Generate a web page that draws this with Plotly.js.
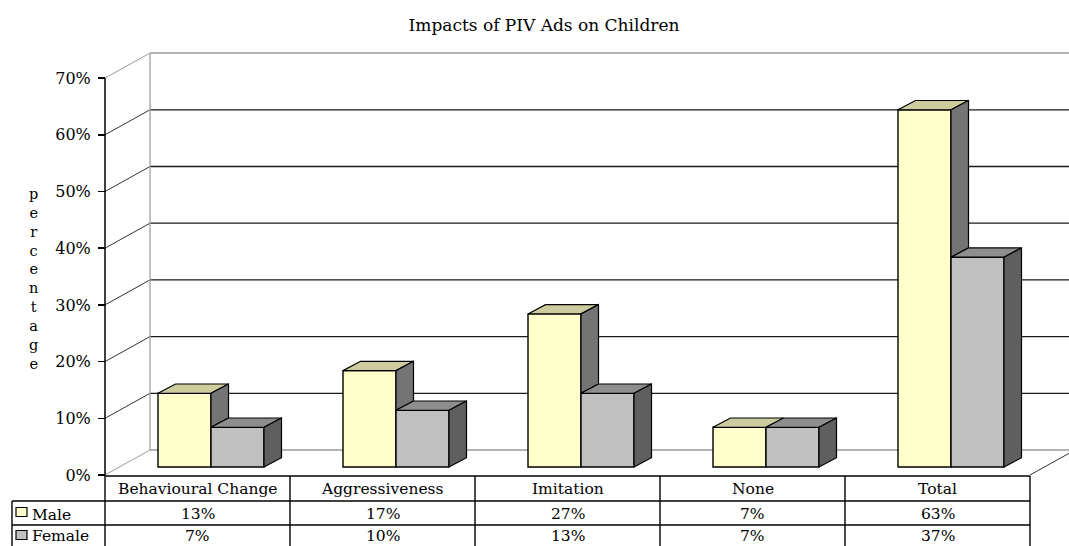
<!DOCTYPE html>
<html>
<head>
<meta charset="utf-8">
<script src="https://cdn.plot.ly/plotly-3.0.1.min.js"></script>
<style>
  html, body { margin: 0; padding: 0; background: #ffffff; }
  #chart { width: 1069px; height: 546px; }
</style>
</head>
<body>
<div id="chart"></div>
<script>
// ---------- data ----------
const chartTitle = 'Impacts of PIV Ads on Children';
const yLabel = 'percentage';
const categories = ['Behavioural Change', 'Aggressiveness', 'Imitation', 'None', 'Total'];
const seriesNames = ['Male', 'Female'];
const maleValues = [13, 17, 27, 7, 63];
const femaleValues = [7, 10, 13, 7, 37];
const yTickValues = [0, 10, 20, 30, 40, 50, 60, 70];
const yTickLabels = ['0%', '10%', '20%', '30%', '40%', '50%', '60%', '70%'];
const maleLabels = ['13%', '17%', '27%', '7%', '63%'];
const femaleLabels = ['7%', '10%', '13%', '7%', '37%'];

// ---------- geometry (pixel layout of the picture) ----------
const W = 1069, H = 546;
const CAT_PX = 185;        // pixels between categories
const CAT0_PX = 211;       // pixel x of first category (bar pair centre)
const PCT_PX = 5.67;       // pixels per 1 %
const Y0_PX = 475;         // pixel y of front-plane 0 %
const X = p => (p - CAT0_PX) / CAT_PX;
const YV = p => (Y0_PX - p) / PCT_PX;
const px = p => p / W;
const py = p => 1 - p / H;

const AXIS_PX = 105;                 // front value axis
const WALL_DX = 45, WALL_DY = 25;    // depth of back wall (px)
const BAR_W = 53 / CAT_PX;           // single bar width (x units)
const BAR_BASE = 8 / PCT_PX;         // bar front plane 0 (y units)
const DEP_X = 17.5 / CAT_PX;         // bar depth x (x units)
const DEP_Y = 9.3 / PCT_PX;          // bar depth y (y units)
const wallDy = WALL_DY / PCT_PX;

const font = 'DejaVu Serif, Liberation Serif, serif';
const maleFront = '#FFFFCC', maleTop = '#CCCC9E', maleSide = '#747474';
const femFront = '#C0C0C0', femTop = '#8E8E8E', femSide = '#5F5F5F';

const idx = categories.map((c, i) => i);

// ---------- traces ----------
const traces = [];
traces.push({
  type: 'bar', x: idx, y: maleValues, base: BAR_BASE, offset: -BAR_W, width: BAR_W,
  name: seriesNames[0], marker: { color: maleFront, line: { color: '#000', width: 1.4 } },
  hoverinfo: 'skip', showlegend: false
});
traces.push({
  type: 'bar', x: idx, y: femaleValues, base: BAR_BASE, offset: 0, width: BAR_W,
  name: seriesNames[1], marker: { color: femFront, line: { color: '#000', width: 1.4 } },
  hoverinfo: 'skip', showlegend: false
});

function polyTrace(polys, fill) {
  const xs = [], ys = [];
  polys.forEach(p => {
    p.forEach(pt => { xs.push(pt[0]); ys.push(pt[1]); });
    xs.push(p[0][0]); ys.push(p[0][1]);
    xs.push(null); ys.push(null);
  });
  return { type: 'scatter', mode: 'lines', x: xs, y: ys, fill: 'toself', fillcolor: fill,
    line: { color: '#000', width: 1.2 }, hoverinfo: 'skip', showlegend: false, connectgaps: false };
}

const mTop = [], mSide = [], fTop = [], fSide = [];
idx.forEach(i => {
  const m = maleValues[i], f = femaleValues[i];
  const xL = i - BAR_W, xM = i, xR = i + BAR_W;
  const tm = BAR_BASE + m, tf = BAR_BASE + f;
  mTop.push([[xL, tm], [xM, tm], [xM + DEP_X, tm + DEP_Y], [xL + DEP_X, tm + DEP_Y]]);
  if (m > f) {
    mSide.push([[xM, tf], [xM + DEP_X, tf + DEP_Y], [xM + DEP_X, tm + DEP_Y], [xM, tm]]);
  }
  fTop.push([[xM, tf], [xR, tf], [xR + DEP_X, tf + DEP_Y], [xM + DEP_X, tf + DEP_Y]]);
  fSide.push([[xR, BAR_BASE], [xR + DEP_X, BAR_BASE + DEP_Y], [xR + DEP_X, tf + DEP_Y], [xR, tf]]);
});
traces.push(polyTrace(mTop, maleTop));
traces.push(polyTrace(mSide, maleSide));
traces.push(polyTrace(fTop, femTop));
traces.push(polyTrace(fSide, femSide));

// ---------- walls & grid (shapes) ----------
const shapes = [];
const xBackL = X(AXIS_PX + WALL_DX);
yTickValues.forEach((v, k) => {
  const edge = (k === 0 || k === yTickValues.length - 1);
  const col = edge ? '#9a9a9a' : '#1a1a1a';
  shapes.push({ type: 'line', xref: 'x', yref: 'y', layer: 'below',
    x0: xBackL, y0: v + wallDy, x1: X(W + 30), y1: v + wallDy,
    line: { color: col, width: edge ? 1.5 : 1.3 } });
  shapes.push({ type: 'line', xref: 'x', yref: 'y', layer: 'below',
    x0: X(AXIS_PX), y0: v, x1: xBackL, y1: v + wallDy,
    line: { color: edge ? '#9a9a9a' : '#333', width: 1 } });
});
// back wall left edge
shapes.push({ type: 'line', xref: 'x', yref: 'y', layer: 'below',
  x0: xBackL, y0: wallDy, x1: xBackL, y1: yTickValues[yTickValues.length - 1] + wallDy,
  line: { color: '#a0a0a0', width: 1.3 } });
// floor right diagonal
const tableRight = AXIS_PX + CAT_PX * categories.length;
shapes.push({ type: 'line', xref: 'x', yref: 'y', layer: 'below',
  x0: X(tableRight), y0: 0, x1: X(tableRight + WALL_DX), y1: wallDy,
  line: { color: '#333', width: 1 } });
// front value axis
shapes.push({ type: 'line', xref: 'x', yref: 'y', layer: 'above',
  x0: X(AXIS_PX), y0: 0, x1: X(AXIS_PX), y1: yTickValues[yTickValues.length - 1],
  line: { color: '#000', width: 1.5 } });

// ---------- data table ----------
const rowTop = 476, row1 = 501, row2 = 525, legendLeft = 12;
const tline = (x0, y0, x1, y1) => shapes.push({ type: 'line', xref: 'paper', yref: 'paper',
  x0: px(x0), y0: py(y0), x1: px(x1), y1: py(y1), line: { color: '#000', width: 1.4 } });
tline(AXIS_PX, rowTop, tableRight, rowTop);
tline(legendLeft, row1, tableRight, row1);
tline(legendLeft, row2, tableRight, row2);
tline(legendLeft, row1, legendLeft, H + 5);
for (let k = 0; k <= categories.length; k++) {
  const xx = AXIS_PX + CAT_PX * k;
  tline(xx, rowTop, xx, H + 5);
}

const annotations = [];
const tf = { family: font, size: 15.5, color: '#000' };
categories.forEach((c, k) => {
  const cx = AXIS_PX + CAT_PX * (k + 0.5);
  annotations.push({ xref: 'paper', yref: 'paper', x: px(cx), y: py(489), text: c,
    showarrow: false, xanchor: 'center', yanchor: 'middle', font: tf });
  annotations.push({ xref: 'paper', yref: 'paper', x: px(cx), y: py(513.5), text: maleLabels[k],
    showarrow: false, xanchor: 'center', yanchor: 'middle', font: tf });
  annotations.push({ xref: 'paper', yref: 'paper', x: px(cx), y: py(535.5), text: femaleLabels[k],
    showarrow: false, xanchor: 'center', yanchor: 'middle', font: tf });
});
// legend keys
[[maleFront, 512, 514.5], [femFront, 535, 535.5]].forEach((s, k) => {
  shapes.push({ type: 'rect', xref: 'paper', yref: 'paper',
    x0: px(16), x1: px(27), y0: py(s[1] - 4.5), y1: py(s[1] + 4.5),
    fillcolor: s[0], line: { color: '#000', width: 1.2 } });
  annotations.push({ xref: 'paper', yref: 'paper', x: px(30), y: py(s[2]), text: seriesNames[k],
    showarrow: false, xanchor: 'left', yanchor: 'middle', font: tf });
});
// vertical axis label
annotations.push({ xref: 'paper', yref: 'paper', x: px(33), y: py(279),
  text: yLabel.split('').join('<br>'), showarrow: false, xanchor: 'center', yanchor: 'middle',
  font: { family: font, size: 14.5, color: '#000' } });

const layout = {
  width: W, height: H,
  margin: { l: 0, r: 0, t: 0, b: 0, pad: 0 },
  paper_bgcolor: '#ffffff', plot_bgcolor: '#ffffff',
  title: { text: chartTitle, x: px(544), xref: 'paper', y: 1 - 25 / H, yref: 'container',
    xanchor: 'center', yanchor: 'middle', font: { family: font, size: 17, color: '#000' } },
  barmode: 'overlay',
  showlegend: false,
  xaxis: { range: [X(0), X(W)], visible: false, fixedrange: true },
  yaxis: { range: [YV(H), YV(0)], anchor: 'free', position: px(AXIS_PX), side: 'left',
    showgrid: false, zeroline: false, showline: false,
    tickmode: 'array', tickvals: yTickValues, ticktext: yTickLabels,
    ticks: 'outside', ticklen: 7, tickwidth: 1.5, tickcolor: '#000', ticklabelstandoff: 4,
    tickfont: { family: font, size: 16, color: '#000' }, fixedrange: true },
  shapes: shapes,
  annotations: annotations
};

Plotly.newPlot('chart', traces, layout, { displayModeBar: false, staticPlot: true });
</script>
</body>
</html>
